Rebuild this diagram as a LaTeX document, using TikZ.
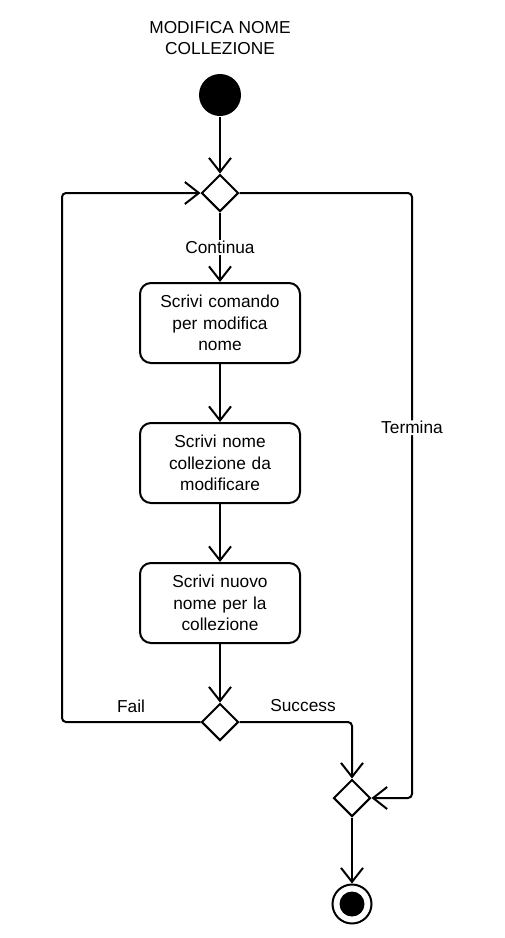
\documentclass[tikz,border=0pt]{standalone}
\usepackage{fontspec}
\setmainfont{Liberation Sans}
\usetikzlibrary{arrows.meta,shapes.geometric}
\begin{document}
\begin{tikzpicture}[x=1pt,y=-1pt,
  line width=2pt,
  every node/.style={font=\fontsize{17.3}{21.5}\selectfont},
  act/.style={draw,rounded corners=11pt,minimum width=160pt,minimum height=80pt,align=center,inner sep=2pt,text width=150pt},
  dec/.style={draw,diamond,minimum width=37pt,minimum height=37pt,inner sep=0pt},
  flow/.style={-{Straight Barb[length=14pt,width=22pt,line width=2pt]}},
  lbl/.style={inner sep=1pt}]
\useasboundingbox (0,0) rectangle (504,938);
\node[align=center] (title) at (220,38) {MODIFICA NOME\\COLLEZIONE};
\node[circle,fill=black,minimum size=42pt,inner sep=0pt] (start) at (220,95) {};
\node[dec] (d1) at (220,193) {};
\node[act] (a1) at (220,323) {Scrivi comando\\per modifica\\nome};
\node[act] (a2) at (220,463) {Scrivi nome\\collezione da\\modificare};
\node[act] (a3) at (220,603) {Scrivi nuovo\\nome per la\\collezione};
\node[dec] (d2) at (220,722) {};
\node[dec] (d3) at (352,798) {};
\node[circle,draw,minimum size=39pt,inner sep=0pt] (endo) at (352,904) {};
\node[circle,fill=black,minimum size=25pt,inner sep=0pt] (endi) at (352,904) {};
\coordinate (lc1) at (62,722);
\coordinate (lc2) at (62,193);
\coordinate (rc1) at (412,193);
\coordinate (rc2) at (412,798);
\coordinate (sc) at (352,722);
\draw[flow] (start) -- (d1.north);
\draw[flow] (d1.south) -- node[lbl,fill=white,pos=0.5] {Continua} (a1.north);
\draw[flow] (a1) -- (a2);
\draw[flow] (a2) -- (a3);
\draw[flow] (a3) -- (d2.north);
\draw[flow,rounded corners=4pt] (d2.west) -- (lc1) -- (lc2) -- (d1.west);
\draw[flow,rounded corners=4pt] (d1.east) -- (rc1) -- node[lbl,fill=white,pos=0.388] {Termina} (rc2) -- (d3.east);
\draw[flow,rounded corners=4pt] (d2.east) -- (sc) -- (d3.north);
\draw[flow] (d3.south) -- (endo.north);
\node[lbl] (fail) at (131,706) {Fail};
\node[lbl] (succ) at (303,706) {Success};
\end{tikzpicture}
\end{document}
